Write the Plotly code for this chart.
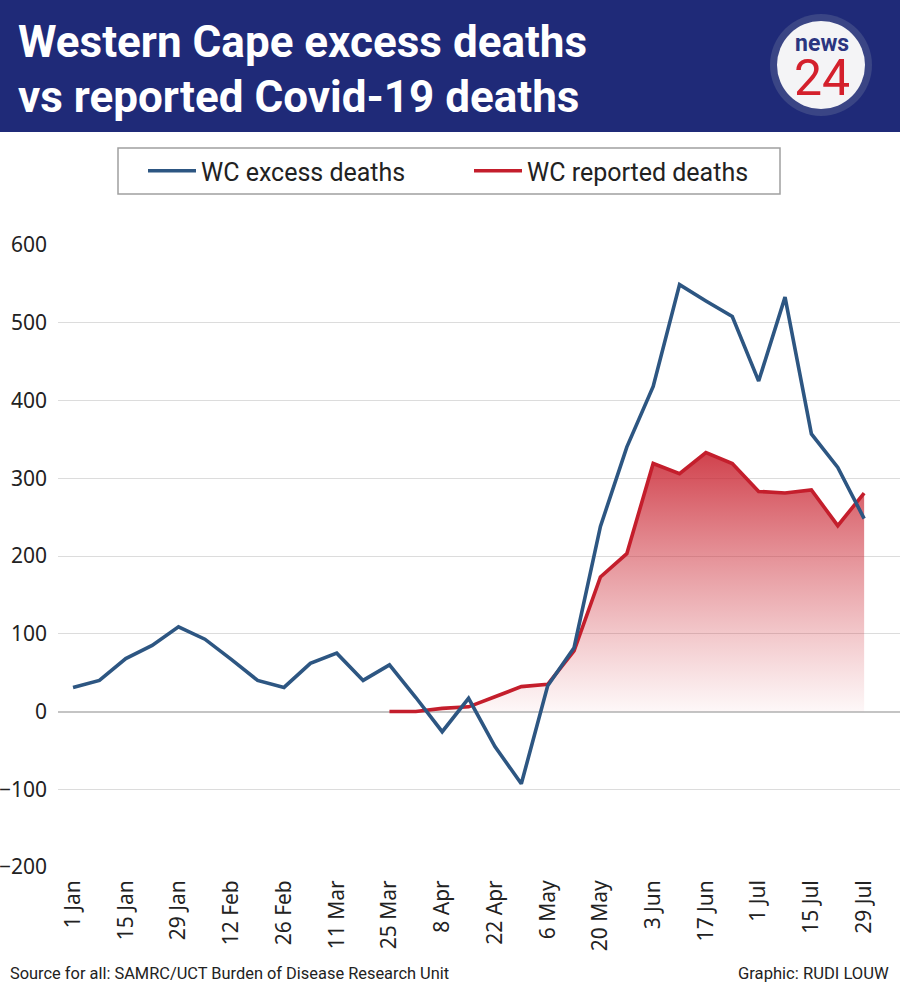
import plotly.graph_objects as go

# ---------------- data ----------------
weeks = ["1 Jan", "8 Jan", "15 Jan", "22 Jan", "29 Jan", "5 Feb", "12 Feb", "19 Feb",
         "26 Feb", "4 Mar", "11 Mar", "18 Mar", "25 Mar", "1 Apr", "8 Apr", "15 Apr",
         "22 Apr", "29 Apr", "6 May", "13 May", "20 May", "27 May", "3 Jun", "10 Jun",
         "17 Jun", "24 Jun", "1 Jul", "8 Jul", "15 Jul", "22 Jul", "29 Jul"]

excess_deaths = [31, 40, 68, 85, 109, 93, 67, 40, 31, 62, 75, 40, 60, 18, -26, 17,
                 -45, -93, 33, 82, 238, 340, 418, 549, 528, 508, 425, 533, 357, 314, 248]

reported_weeks = weeks[12:]
reported_deaths = [0, 0, 4, 6, 19, 32, 35, 78, 173, 203, 319, 306, 333, 319, 283,
                   281, 285, 239, 281]

tick_labels = weeks[::2]

y_ticks = [-200, -100, 0, 100, 200, 300, 400, 500, 600]

title_lines = ["Western Cape excess deaths", "vs reported Covid-19 deaths"]
source_text = "Source for all: SAMRC/UCT Burden of Disease Research Unit"
credit_text = "Graphic: RUDI LOUW"

# ---------------- layout helpers ----------------
W, H = 900, 992
ML, MR, MT, MB = 58, 0, 245, 125
PW = W - ML - MR
PH = H - MT - MB


def px(x):
    return (x - ML) / PW


def py(y):
    return (H - MB - y) / PH


NAVY = "#1f2a78"
BLUE = "#2d5682"
RED = "#c41e2c"
MAIN = "Roboto, Arial, sans-serif"
TICKFONT = "Noto Sans, Open Sans, sans-serif"

fig = go.Figure()

# gradient area under reported deaths
fig.add_trace(go.Scatter(
    x=reported_weeks, y=reported_deaths, mode="lines",
    line=dict(width=0, color=RED), fill="tozeroy",
    fillgradient=dict(type="vertical",
                      colorscale=[[0, "rgba(214,70,80,0.04)"],
                                  [1, "rgba(200,32,45,0.85)"]]),
    showlegend=False, hoverinfo="skip",
))

fig.add_trace(go.Scatter(
    x=reported_weeks, y=reported_deaths, name="WC reported deaths",
    mode="lines", line=dict(color=RED, width=3.6), legendrank=2,
))

fig.add_trace(go.Scatter(
    x=weeks, y=excess_deaths, name="WC excess deaths",
    mode="lines", line=dict(color=BLUE, width=3.6), legendrank=1,
))

shapes = [
    # header band
    dict(type="rect", xref="paper", yref="paper", x0=px(0), x1=px(W), y0=py(132), y1=py(0),
         fillcolor=NAVY, line=dict(width=0), layer="below"),
    # logo
    dict(type="circle", xref="paper", yref="paper", x0=px(770), x1=px(872), y0=py(116), y1=py(14),
         fillcolor="#3a4585", line=dict(width=0)),
    dict(type="circle", xref="paper", yref="paper", x0=px(777), x1=px(865), y0=py(109), y1=py(21),
         fillcolor="#f4f4f6", line=dict(width=0)),
    # legend box
    dict(type="rect", xref="paper", yref="paper", x0=px(118), x1=px(780), y0=py(194), y1=py(148),
         fillcolor="rgba(0,0,0,0)", line=dict(color="#a0a0a0", width=1.5)),
]

logo_text = ("<span style='font-size:23px;color:#2b3580'><b>news</b></span><br>"
             "<span style='font-size:50px;color:#d4202c'>24</span>")

annotations = [
    dict(text="<b>%s</b>" % title_lines[0], xref="paper", yref="paper", x=px(16), y=py(42),
         xanchor="left", yanchor="middle", showarrow=False,
         font=dict(family=MAIN, size=44, color="white")),
    dict(text="<b>%s</b>" % title_lines[1], xref="paper", yref="paper", x=px(16), y=py(97),
         xanchor="left", yanchor="middle", showarrow=False,
         font=dict(family=MAIN, size=44, color="white")),
    dict(text=logo_text, xref="paper", yref="paper", x=px(822), y=py(68),
         xanchor="center", yanchor="middle", showarrow=False, align="center",
         font=dict(family=MAIN, size=34, color="#2b3580")),
    dict(text=source_text, xref="paper", yref="paper", x=px(8), y=py(973),
         xanchor="left", yanchor="middle", showarrow=False,
         font=dict(family=MAIN, size=16.4, color="#222222")),
    dict(text=credit_text, xref="paper", yref="paper", x=px(891), y=py(973),
         xanchor="right", yanchor="middle", showarrow=False,
         font=dict(family=MAIN, size=16.6, color="#222222")),
]

fig.update_layout(
    width=W, height=H,
    margin=dict(l=ML, r=MR, t=MT, b=MB, pad=0),
    paper_bgcolor="white", plot_bgcolor="white",
    shapes=shapes, annotations=annotations,
    showlegend=True,
    legend=dict(orientation="h", xref="container", yref="container",
                x=143 / W, y=1 - 171 / H, xanchor="left", yanchor="middle",
                entrywidth=263, entrywidthmode="pixels", itemwidth=48,
                font=dict(family=MAIN, size=25, color="#222222"),
                bgcolor="rgba(0,0,0,0)", borderwidth=0),
    xaxis=dict(type="category", categoryorder="array", categoryarray=weeks,
               range=[-0.57, 31.36], tickmode="array", tickvals=tick_labels,
               ticktext=tick_labels, tickangle=-90, showgrid=False, showline=False,
               zeroline=False, ticks="", ticklabelstandoff=8,
               tickfont=dict(family=TICKFONT, size=21, color="#222222")),
    yaxis=dict(range=[-200, 600], tickvals=y_ticks, showgrid=True, gridcolor="#dcdcdc",
               gridwidth=1, zeroline=True, zerolinecolor="#c4c4c4", zerolinewidth=2,
               showline=False, ticks="", ticklabelstandoff=10,
               tickfont=dict(family=TICKFONT, size=21, color="#222222")),
)

fig.write_html("out.html", config={"displayModeBar": False},
               post_script="document.body.style.margin='0px';document.body.style.overflow='hidden';")
